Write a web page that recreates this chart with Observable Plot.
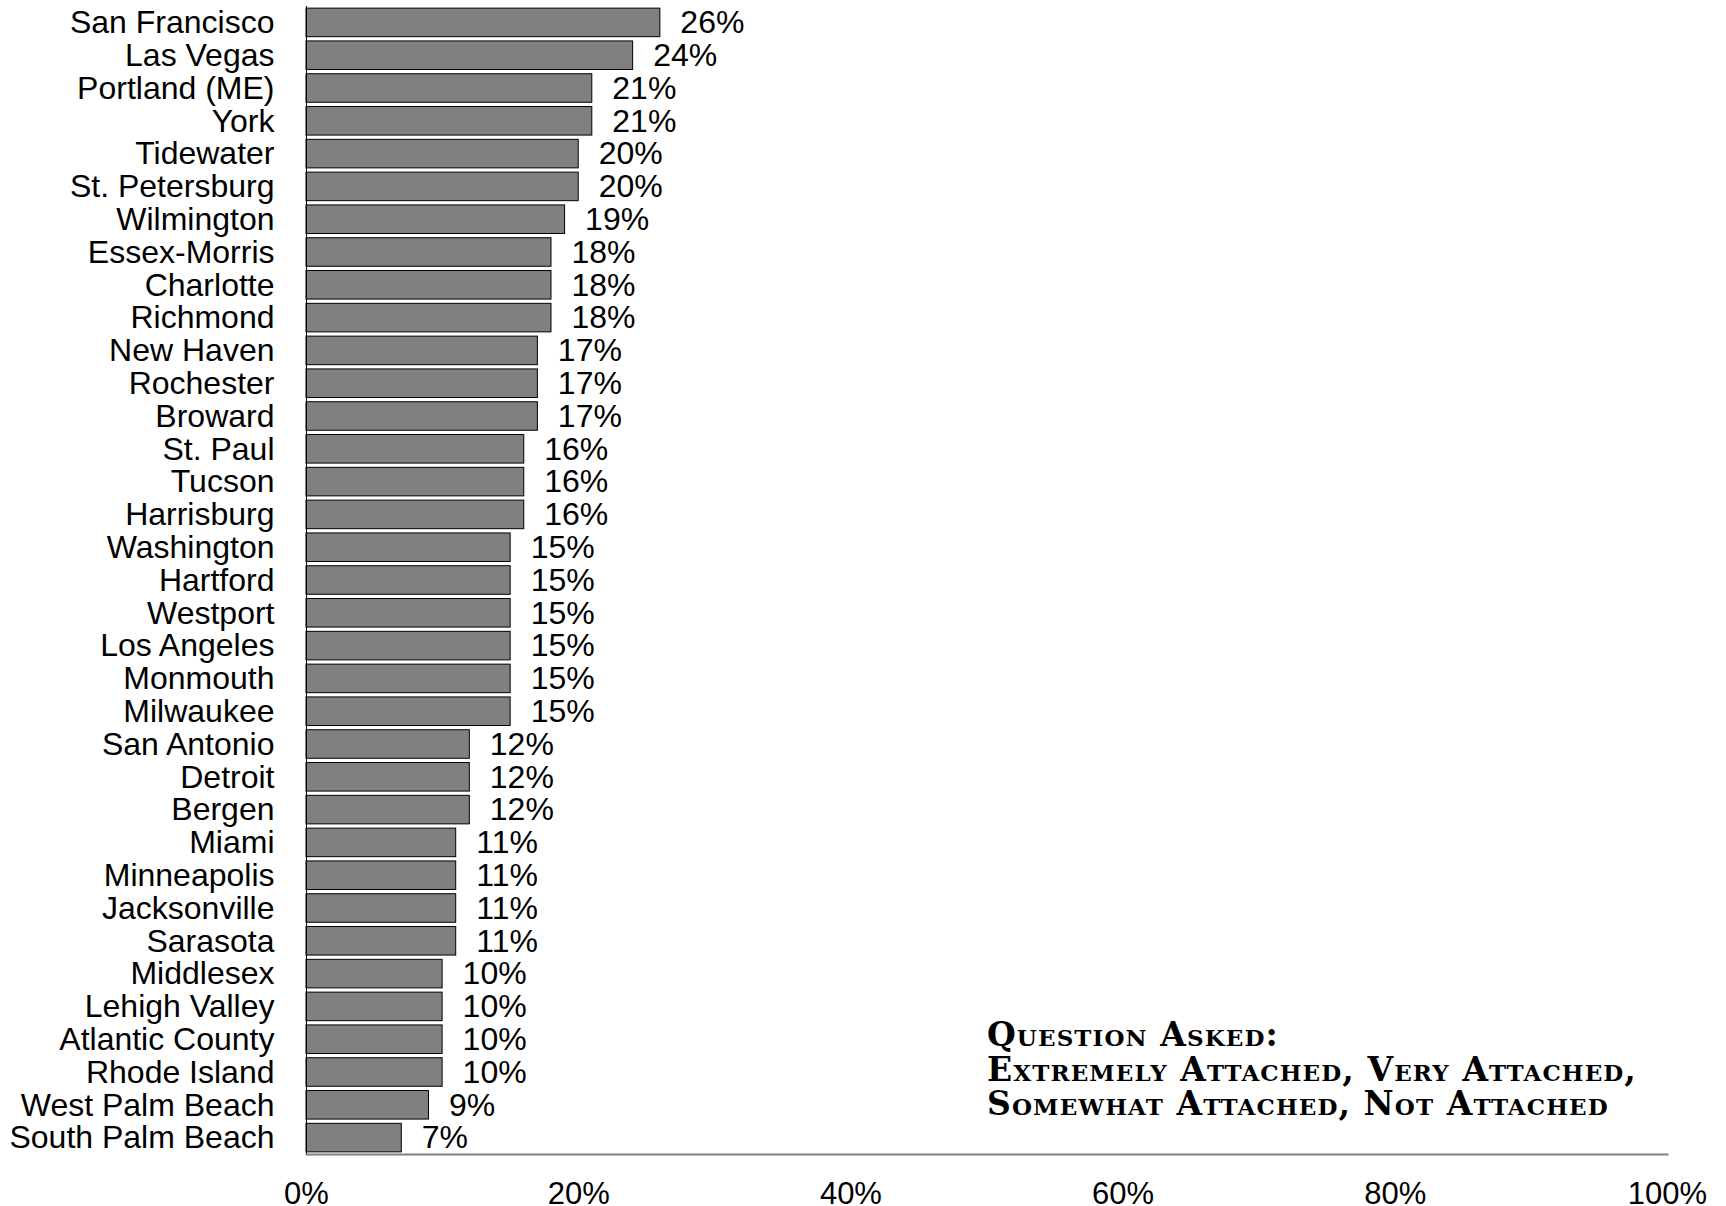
<!DOCTYPE html>
<html>
<head>
<meta charset="utf-8">
<script src="https://cdn.jsdelivr.net/npm/d3@7"></script>
<script src="https://cdn.jsdelivr.net/npm/@observablehq/plot@0.6"></script>
<style>
  html, body { margin: 0; padding: 0; background: white; }
</style>
</head>
<body>
<div id="chart"></div>
<script>
const cities = ["San Francisco","Las Vegas","Portland (ME)","York","Tidewater","St. Petersburg","Wilmington","Essex-Morris","Charlotte","Richmond","New Haven","Rochester","Broward","St. Paul","Tucson","Harrisburg","Washington","Hartford","Westport","Los Angeles","Monmouth","Milwaukee","San Antonio","Detroit","Bergen","Miami","Minneapolis","Jacksonville","Sarasota","Middlesex","Lehigh Valley","Atlantic County","Rhode Island","West Palm Beach","South Palm Beach"];
const values = [26,24,21,21,20,20,19,18,18,18,17,17,17,16,16,16,15,15,15,15,15,15,12,12,12,11,11,11,11,10,10,10,10,9,7];
const xTicks = [0,20,40,60,80,100];
const note = "Question Asked:\nExtremely Attached, Very Attached,\nSomewhat Attached, Not Attached";

const data = cities.map((c, i) => ({city: c, value: values[i]}));

const chart = Plot.plot({
  width: 1726,
  height: 1206,
  marginLeft: 306,
  marginRight: 59,
  marginTop: 6,
  marginBottom: 52,
  style: {fontFamily: "'Liberation Sans', Arial, sans-serif", fontSize: "32px", color: "black", background: "white"},
  x: {domain: [0, 100], label: null},
  y: {domain: cities, paddingInner: 0.13, paddingOuter: 0.065, round: false, label: null},
  marks: [
    Plot.barX(data, {x: "value", y: "city", fill: "#808080", stroke: "black", strokeWidth: 1}),
    Plot.text(data, {x: "value", y: "city", text: d => d.value + "%", textAnchor: "start", dx: 20, fontSize: 32, fill: "black"}),
    Plot.axisY({tickSize: 0, tickPadding: 32, fontSize: 32, label: null}),
    Plot.axisX({ticks: xTicks, tickFormat: d => d + "%", tickSize: 0, tickPadding: 27, fontSize: 31, label: null}),
    Plot.ruleX([0], {stroke: "black", strokeWidth: 1}),
    Plot.frame({anchor: "bottom", stroke: "#808080", strokeWidth: 2}),
    Plot.text([note], {x: 50, frameAnchor: "bottom", dy: -85, textAnchor: "start", lineAnchor: "middle", lineHeight: 1.05, fontSize: 33, fontWeight: "bold", fontVariant: "small-caps", fontFamily: "'DejaVu Serif', serif", fill: "black"})
  ]
});
d3.select(chart).selectAll("g[aria-label='text'] text")
  .filter(function() { return this.textContent.includes("Question"); })
  .style("letter-spacing", "1.1px");
document.getElementById("chart").appendChild(chart);
</script>
</body>
</html>
